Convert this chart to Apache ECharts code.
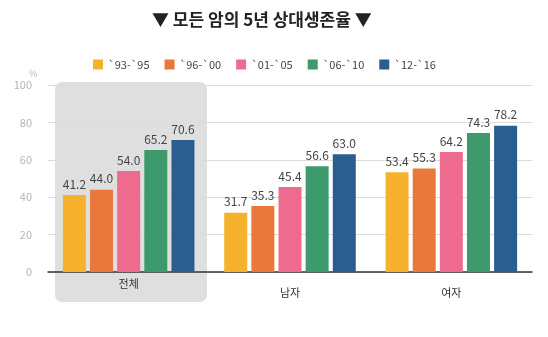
<!DOCTYPE html>
<html><head><meta charset="utf-8">
<script src="https://cdn.jsdelivr.net/npm/echarts@6/dist/echarts.min.js"></script>
<style>html,body{margin:0;padding:0;background:#fff}#c{width:548px;height:337px}</style>
</head><body><div id="c"></div>
<script>
const categories = ['전체', '남자', '여자'];
const seriesNames = ['`93-`95', '`96-`00', '`01-`05', '`06-`10', '`12-`16'];
const s93 = [41.2, 31.7, 53.4];
const s96 = [44.0, 35.3, 55.3];
const s01 = [54.0, 45.4, 64.2];
const s06 = [65.2, 56.6, 74.3];
const s12 = [70.6, 63.0, 78.2];
const yTicks = [0, 20, 40, 60, 80, 100];
const colors = ['#f6b12d', '#e8783c', '#ee6b8f', '#3d9a6c', '#2b5d8e'];
const values = [s93, s96, s01, s06, s12];
const font = '"Noto Sans CJK KR", "Noto Sans", sans-serif';

const chart = echarts.init(document.getElementById('c'));
chart.setOption({
  animation: false,
  textStyle: { fontFamily: font },
  title: {
    text: '▼ 모든 암의 5년 상대생존율 ▼',
    left: 147, top: 6,
    textStyle: { fontSize: 17, fontWeight: 'bold', color: '#222', fontFamily: font }
  },
  legend: {
    left: 88, top: 54,
    itemWidth: 10, itemHeight: 10, itemGap: 15,
    icon: 'rect',
    textStyle: { fontSize: 11, color: '#444', fontFamily: font },
    data: seriesNames
  },
  graphic: [
    { type: 'rect', z: -10, shape: { x: 55, y: 82, width: 152, height: 220, r: 7 }, style: { fill: '#dfdfdf' } },
    { type: 'text', left: 29, top: 69, style: { text: '%', fill: '#b8b8b8', fontSize: 9, fontFamily: font } }
  ],
  grid: { left: 48, right: 16, top: 85, bottom: 65 },
  xAxis: {
    type: 'category', data: categories,
    axisLine: { lineStyle: { color: '#333', width: 1.5 } },
    axisTick: { show: false },
    axisLabel: {
      margin: 6, fontSize: 11, color: '#333', fontFamily: font,
      formatter: (v, i) => i === 0 ? '{a|' + v + '}' : '{b|' + v + '}',
      rich: { a: { fontSize: 11, color: '#333' }, b: { fontSize: 11, color: '#333', padding: [9, 0, 0, 0] } }
    }
  },
  yAxis: {
    type: 'value', min: yTicks[0], max: yTicks[yTicks.length - 1], interval: 20,
    axisLine: { show: false }, axisTick: { show: false },
    axisLabel: { margin: 16, fontSize: 11, color: '#b5b5b5', fontFamily: font },
    splitLine: { lineStyle: { color: '#dcdcdc', width: 1 } }
  },
  series: seriesNames.map((n, i) => ({
    name: n, type: 'bar', data: values[i],
    barWidth: 23, barGap: '18%',
    itemStyle: { color: colors[i] },
    label: { show: true, position: 'top', distance: 5, fontSize: 12, color: '#444', fontFamily: font,
      formatter: p => p.value.toFixed(1) }
  }))
});
</script></body></html>
